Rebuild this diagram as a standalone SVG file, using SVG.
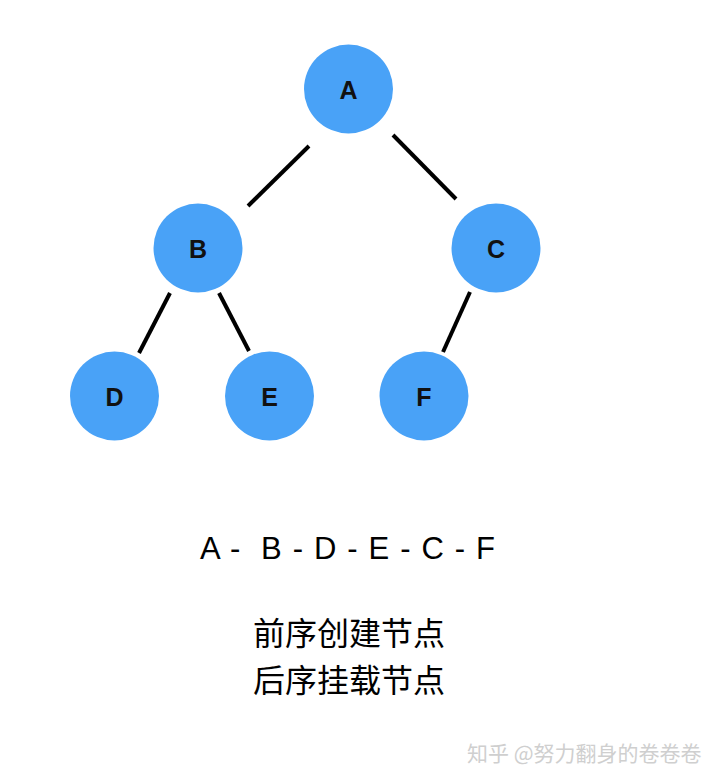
<svg xmlns="http://www.w3.org/2000/svg" width="720" height="782" viewBox="0 0 720 782">
<style>
.node circle{fill:#49a2f7;}
.node text{font-family:"Liberation Sans",Arial,sans-serif;font-weight:bold;font-size:25px;fill:#111;text-anchor:middle;dominant-baseline:central;}
.edges line{stroke:#000;stroke-width:4;}
.seq{font-family:"Liberation Sans",Arial,sans-serif;font-size:31px;fill:#000;}
.cn{font-family:"Noto Sans CJK SC",sans-serif;font-size:32px;fill:#000;text-anchor:middle;}
.wm{font-family:"Noto Sans CJK SC",sans-serif;font-size:21px;fill:#cfcfcf;}
</style>
<rect width="720" height="782" fill="#fff"/>
<g id="edges" class="edges">
<line x1="309" y1="146" x2="248" y2="206"/>
<line x1="393" y1="135" x2="456" y2="199"/>
<line x1="170" y1="293" x2="139" y2="353"/>
<line x1="219" y1="293" x2="249" y2="351"/>
<line x1="470" y1="292" x2="443" y2="352"/>
</g>
<g id="A" class="node"><circle cx="348.5" cy="89" r="44.5"/><text x="348.5" y="90">A</text></g>
<g id="B" class="node"><circle cx="198" cy="248" r="44.5"/><text x="198" y="249">B</text></g>
<g id="C" class="node"><circle cx="496" cy="248" r="44.5"/><text x="496" y="249">C</text></g>
<g id="D" class="node"><circle cx="114.5" cy="396" r="44.5"/><text x="114.5" y="397">D</text></g>
<g id="E" class="node"><circle cx="269.5" cy="396" r="44.5"/><text x="269.5" y="397">E</text></g>
<g id="F" class="node"><circle cx="424" cy="396" r="44.5"/><text x="424" y="397">F</text></g>
<text class="seq" x="200" y="559" textLength="295" xml:space="preserve">A -  B - D - E - C - F</text>
<text class="cn" x="349" y="645">前序创建节点</text>
<text class="cn" x="349" y="692">后序挂载节点</text>
<text class="wm" x="467" y="761">知乎 @努力翻身的卷卷卷</text>
</svg>
